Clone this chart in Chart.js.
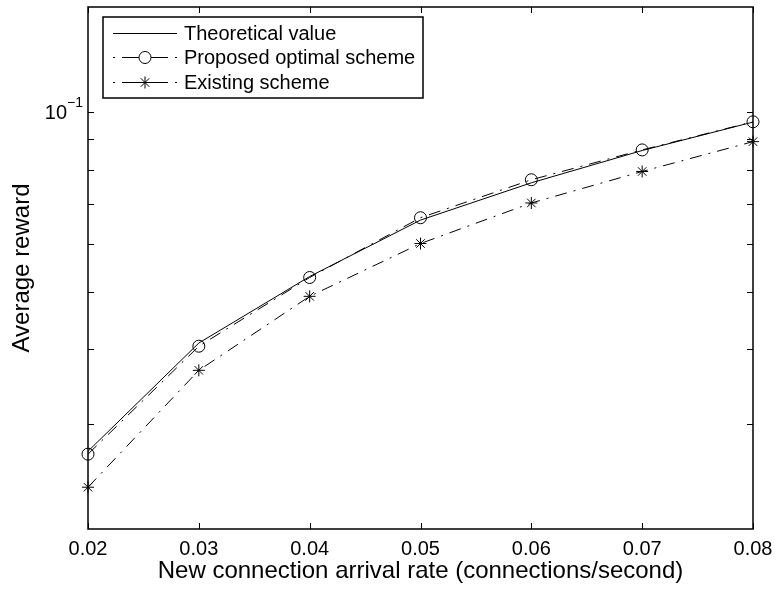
<!DOCTYPE html>
<html>
<head>
<meta charset="utf-8">
<script src="https://cdn.jsdelivr.net/npm/chart.js@4.4.1/dist/chart.umd.min.js"></script>
<style>
  html, body { margin: 0; padding: 0; background: #fff; }
  #wrap { width: 775px; height: 591px; position: relative; }
</style>
</head>
<body>
<div id="wrap"><canvas id="grafica"></canvas></div>
<script>
const FONT = "'Liberation Sans', Arial, Helvetica, sans-serif";

// datos
const xValues = [0.02, 0.03, 0.04, 0.05, 0.06, 0.07, 0.08];
const teorico = [0.0270, 0.0410, 0.0530, 0.0659, 0.0761, 0.0862, 0.0962];
const propuesto = [0.0267, 0.0405, 0.0528, 0.0665, 0.0770, 0.0864, 0.0963];
const existente = [0.0235, 0.0369, 0.0491, 0.0602, 0.0704, 0.0795, 0.0892];

const seriesNames = ['Theoretical value', 'Proposed optimal scheme', 'Existing scheme'];
const xTicks = [0.02, 0.03, 0.04, 0.05, 0.06, 0.07, 0.08];
const yTicks = [0.03, 0.04, 0.05, 0.06, 0.07, 0.08, 0.09, 0.1];
const yMajorTicks = [0.1];
const yMajorLabel = ['10', '\u22121'];

const DASH_DOT = [12, 7, 2, 7];

function puntos(serie) {
  return xValues.map((x, i) => ({ x: x, y: serie[i] }));
}

// marco, marcas interiores, etiqueta 10^-1 y leyenda al estilo MATLAB
const marcoMatlab = {
  id: 'marcoMatlab',
  afterDraw(chart) {
    const ctx = chart.ctx;
    const a = chart.chartArea;
    const sx = chart.scales.x;
    const sy = chart.scales.y;
    const tl = 6;

    ctx.save();
    ctx.strokeStyle = '#000';
    ctx.lineWidth = 1;
    ctx.setLineDash([]);
    ctx.beginPath();
    xTicks.forEach(v => {
      const px = Math.round(sx.getPixelForValue(v)) + 0.5;
      ctx.moveTo(px, a.bottom); ctx.lineTo(px, a.bottom - tl);
      ctx.moveTo(px, a.top); ctx.lineTo(px, a.top + tl);
    });
    yTicks.forEach(v => {
      const py = Math.round(sy.getPixelForValue(v)) + 0.5;
      ctx.moveTo(a.left, py); ctx.lineTo(a.left + tl, py);
      ctx.moveTo(a.right, py); ctx.lineTo(a.right - tl, py);
    });
    ctx.stroke();

    ctx.lineWidth = 1.5;
    ctx.strokeRect(a.left, a.top, a.right - a.left, a.bottom - a.top);

    // etiqueta 10^-1
    ctx.fillStyle = '#000';
    yMajorTicks.forEach(v => {
      const py = sy.getPixelForValue(v);
      ctx.textAlign = 'right';
      ctx.textBaseline = 'middle';
      ctx.font = '20px ' + FONT;
      ctx.fillText(yMajorLabel[0], 67, py + 1);
      ctx.textAlign = 'left';
      ctx.font = '14px ' + FONT;
      ctx.fillText(yMajorLabel[1], 67, py - 9);
    });

    // leyenda
    const box = { x: 103, y: 17, w: 320, h: 81 };
    ctx.fillStyle = '#fff';
    ctx.fillRect(box.x, box.y, box.w, box.h);
    ctx.lineWidth = 1.5;
    ctx.strokeStyle = '#000';
    ctx.strokeRect(box.x, box.y, box.w, box.h);

    const filas = [33, 57, 82];
    chart.data.datasets.forEach((ds, i) => {
      const y = filas[i];
      ctx.lineWidth = 1;
      ctx.strokeStyle = '#000';
      if (ds.borderDash && ds.borderDash.length) {
        ctx.setLineDash([2, 7, 17, 12, 17, 7, 2, 100]);
      } else {
        ctx.setLineDash([]);
      }
      ctx.beginPath();
      ctx.moveTo(113, y + 0.5);
      ctx.lineTo(177, y + 0.5);
      ctx.stroke();
      ctx.setLineDash([]);
      if (ds.pointRadius > 0) {
        ctx.fillStyle = 'rgba(0,0,0,0)';
        Chart.helpers.drawPoint(ctx, {
          pointStyle: ds.pointStyle,
          radius: ds.pointRadius,
          rotation: 0,
          borderWidth: 1
        }, 145, y + 0.5);
      }
      ctx.fillStyle = '#000';
      ctx.font = '20px ' + FONT;
      ctx.textAlign = 'left';
      ctx.textBaseline = 'middle';
      ctx.fillText(ds.label, 184, y + 1);
    });
    ctx.restore();
  }
};

const ctx = document.getElementById('grafica').getContext('2d');
window.grafica = new Chart(ctx, {
  type: 'line',
  data: {
    datasets: [{
      label: seriesNames[0],
      data: puntos(teorico),
      borderColor: '#000',
      borderWidth: 1,
      pointRadius: 0,
      tension: 0,
      clip: false
    }, {
      label: seriesNames[1],
      data: puntos(propuesto),
      borderColor: '#000',
      borderWidth: 1,
      borderDash: DASH_DOT,
      pointStyle: 'circle',
      pointRadius: 6,
      pointBorderWidth: 1,
      pointBorderColor: '#000',
      pointBackgroundColor: 'rgba(0,0,0,0)',
      tension: 0,
      clip: false
    }, {
      label: seriesNames[2],
      data: puntos(existente),
      borderColor: '#000',
      borderWidth: 1,
      borderDash: DASH_DOT,
      pointStyle: 'star',
      pointRadius: 6,
      pointBorderWidth: 1,
      pointBorderColor: '#000',
      pointBackgroundColor: 'rgba(0,0,0,0)',
      tension: 0,
      clip: false
    }]
  },
  options: {
    responsive: true,
    maintainAspectRatio: false,
    animation: false,
    events: [],
    layout: { padding: { top: 5, right: 22, left: 0, bottom: 0 } },
    scales: {
      x: {
        type: 'linear',
        min: 0.02,
        max: 0.08,
        grid: { display: false, drawTicks: false },
        border: { display: false },
        afterBuildTicks: scale => { scale.ticks = xTicks.map(v => ({ value: v })); },
        afterFit: scale => {
          scale.height = 62;
          scale.paddingLeft = 0;
          scale.paddingRight = 0;
        },
        ticks: {
          color: '#000',
          padding: 8,
          maxRotation: 0,
          font: { family: FONT, size: 20 },
          callback: v => v.toFixed(2)
        },
        title: {
          display: true,
          text: 'New connection arrival rate (connections/second)',
          color: '#000',
          font: { family: FONT, size: 24 },
          padding: { top: 0, bottom: 5 }
        }
      },
      y: {
        type: 'logarithmic',
        min: 0.02,
        max: 0.15,
        grid: { display: false, drawTicks: false },
        border: { display: false },
        afterBuildTicks: scale => { scale.ticks = yTicks.map(v => ({ value: v })); },
        afterFit: scale => {
          scale.width = 88;
          scale.paddingTop = 0;
          scale.paddingBottom = 0;
        },
        ticks: { display: false },
        title: {
          display: true,
          text: 'Average reward',
          color: '#000',
          font: { family: FONT, size: 24 },
          padding: { top: 8, bottom: 0 }
        }
      }
    },
    plugins: {
      legend: { display: false },
      tooltip: { enabled: false }
    }
  },
  plugins: [marcoMatlab]
});
</script>
</body>
</html>
